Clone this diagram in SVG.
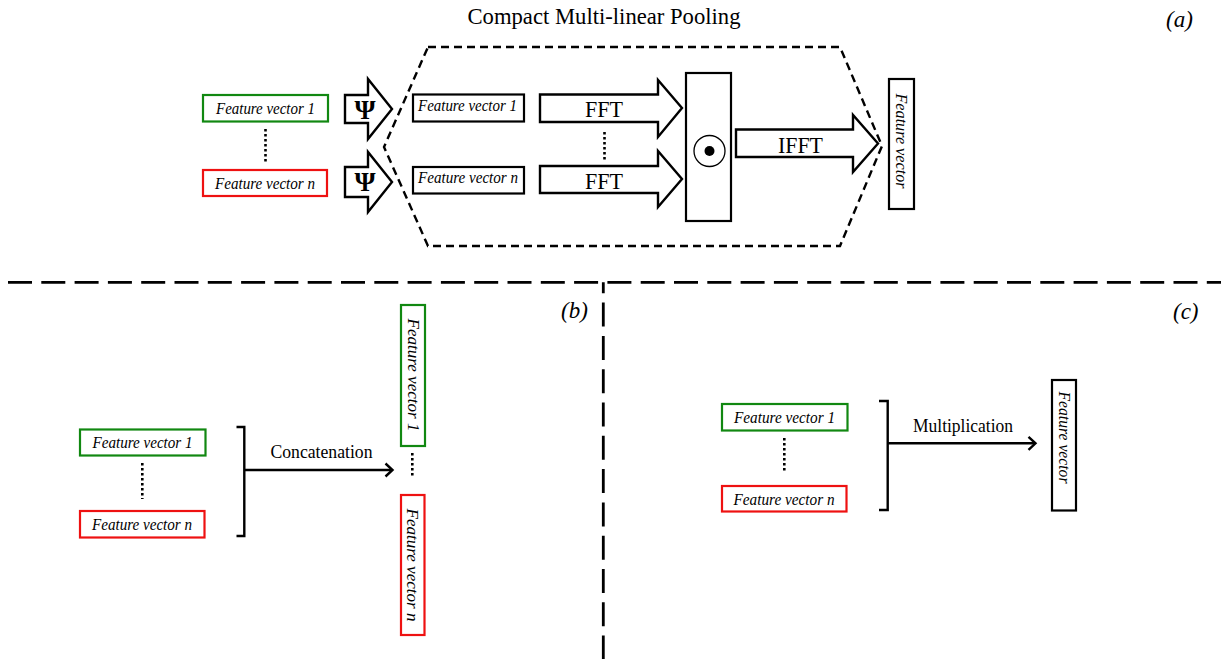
<svg xmlns="http://www.w3.org/2000/svg" width="1221" height="659" viewBox="0 0 1221 659">
<style>
text{font-family:"Liberation Serif","Times New Roman",serif;fill:#000}
.fv{font-size:16px;font-style:italic;text-anchor:middle}
.box{fill:#fff;stroke:#000;stroke-width:2.2}
.g{fill:#fff;stroke:#118811;stroke-width:2.2}
.r{fill:#fff;stroke:#ee1111;stroke-width:2.2}
.arr{fill:#fff;stroke:#000;stroke-width:2.4;stroke-linejoin:miter}
.dot{fill:none;stroke:#000;stroke-width:2.6;stroke-dasharray:2.6 2.4}
.sep{fill:none;stroke:#000;stroke-width:2.8;stroke-dasharray:24 9.3}
.hex{fill:none;stroke:#000;stroke-width:2.4;stroke-dasharray:8 5}
.ln{fill:none;stroke:#000;stroke-width:2.4}
.lbl{font-size:23px;font-style:italic}
</style>

<g id="separators">
<path class="sep" d="M8,282.3 H1221"/>
<path class="sep" d="M603.3,282.3 V659" style="stroke-dashoffset:13"/>
</g>

<g id="panel-a">
<text x="604" y="24" font-size="24" text-anchor="middle" textLength="273" lengthAdjust="spacingAndGlyphs">Compact Multi-linear Pooling</text>
<text class="lbl" x="1166" y="27">(a)</text>
<path id="cmp-region" class="hex" d="M428,47 H840 L882,146 L840,246 H428 L384,147 Z"/>

<g id="a-fv1"><rect class="g" x="203" y="95" width="125" height="26.5"/><text class="fv" x="265.5" y="114" textLength="99" lengthAdjust="spacingAndGlyphs">Feature vector 1</text></g>
<g id="a-fvn"><rect class="r" x="203" y="170" width="124" height="26"/><text class="fv" x="265" y="189" textLength="100" lengthAdjust="spacingAndGlyphs">Feature vector n</text></g>

<g id="a-psi1"><polygon class="arr" points="345,95 368,95 368,79 392,109 368,139 368,123 345,123"/><text x="365" y="118.5" font-size="27" font-weight="bold" text-anchor="middle">Ψ</text></g>
<g id="a-psin"><polygon class="arr" points="345,167 368,167 368,152 392,182 368,212 368,197 345,197"/><text x="365" y="191" font-size="27" font-weight="bold" text-anchor="middle">Ψ</text></g>

<g id="a-in1"><rect class="box" x="413" y="94.5" width="111" height="27"/><text class="fv" x="467.5" y="111" textLength="99" lengthAdjust="spacingAndGlyphs">Feature vector 1</text></g>
<g id="a-inn"><rect class="box" x="413" y="167" width="111" height="26.5"/><text class="fv" x="468" y="183" textLength="100" lengthAdjust="spacingAndGlyphs">Feature vector n</text></g>

<g id="a-fft1"><polygon class="arr" points="540,94.5 658,94.5 658,80 682,108 658,137 658,122 540,122"/><text x="585" y="117" font-size="24" textLength="38" lengthAdjust="spacingAndGlyphs">FFT</text></g>
<g id="a-fftn"><polygon class="arr" points="540,166 658,166 658,151 682,179 658,207 658,193 540,193"/><text x="585" y="189" font-size="24" textLength="38" lengthAdjust="spacingAndGlyphs">FFT</text></g>

<g id="a-prod"><rect class="box" x="686" y="73" width="45" height="148"/><circle cx="709.5" cy="151" r="15.5" fill="none" stroke="#000" stroke-width="1.3"/><circle cx="709.5" cy="151" r="5" fill="#000"/></g>

<g id="a-ifft"><polygon class="arr" points="736,129.5 853,129.5 853,115 878,143.5 853,172 853,157 736,157"/><text x="778" y="152.5" font-size="24" textLength="45" lengthAdjust="spacingAndGlyphs">IFFT</text></g>

<g id="a-out"><rect class="box" x="889" y="79" width="25" height="130"/><text class="fv" x="901.5" y="141" font-size="17" dominant-baseline="central" textLength="95" lengthAdjust="spacingAndGlyphs" transform="rotate(90 901.5 141)">Feature vector</text></g>
</g>

<g id="panel-b">
<text class="lbl" x="561" y="318">(b)</text>
<g id="b-fv1"><rect class="g" x="80" y="429.5" width="125.5" height="26"/><text class="fv" x="142.5" y="448.3" textLength="100" lengthAdjust="spacingAndGlyphs">Feature vector 1</text></g>
<g id="b-fvn"><rect class="r" x="80" y="511" width="124.5" height="26.5"/><text class="fv" x="142" y="530" textLength="100" lengthAdjust="spacingAndGlyphs">Feature vector n</text></g>
<g id="b-cat1"><rect class="g" x="401" y="305" width="24" height="141"/><text class="fv" x="413" y="375" font-size="18" dominant-baseline="central" textLength="113" lengthAdjust="spacingAndGlyphs" transform="rotate(90 413 375)">Feature vector 1</text></g>
<g id="b-catn"><rect class="r" x="401" y="495" width="23.5" height="140"/><text class="fv" x="412.5" y="565" font-size="18" dominant-baseline="central" textLength="113" lengthAdjust="spacingAndGlyphs" transform="rotate(90 412.5 565)">Feature vector n</text></g>
<text x="321.5" y="458" font-size="19" text-anchor="middle" textLength="102" lengthAdjust="spacingAndGlyphs">Concatenation</text>
</g>

<g id="panel-c">
<text class="lbl" x="1173" y="319">(c)</text>
<g id="c-fv1"><rect class="g" x="722" y="404" width="125.5" height="26.5"/><text class="fv" x="784.5" y="422.7" textLength="101" lengthAdjust="spacingAndGlyphs">Feature vector 1</text></g>
<g id="c-fvn"><rect class="r" x="722" y="486" width="124.5" height="25.5"/><text class="fv" x="784" y="504.5" textLength="101" lengthAdjust="spacingAndGlyphs">Feature vector n</text></g>
<g id="c-out"><rect class="box" x="1052" y="380" width="24" height="130.5"/><text class="fv" x="1064" y="437.5" font-size="17" dominant-baseline="central" textLength="92" lengthAdjust="spacingAndGlyphs" transform="rotate(90 1064 437.5)">Feature vector</text></g>
<text x="963" y="432" font-size="19" text-anchor="middle" textLength="100" lengthAdjust="spacingAndGlyphs">Multiplication</text>
</g>

<g id="connectors">
<path class="dot" d="M265.5,129 V164"/>
<path class="dot" d="M604.5,132 V160"/>
<path class="dot" d="M142.3,463 V499"/>
<path class="dot" d="M412.3,453 V478"/>
<path class="dot" d="M784.3,438 V472.5"/>
<path class="ln" d="M236.5,427 H244.3 V536 H236.5 M244.3,470 H392"/>
<path class="ln" d="M385.5,463.5 L392.5,470 L385.5,476.5"/>
<path class="ln" d="M879,401 H887.7 V510 H879 M887.7,443.3 H1035"/>
<path class="ln" d="M1028.5,436.8 L1035.5,443.3 L1028.5,449.8"/>
</g>
</svg>
